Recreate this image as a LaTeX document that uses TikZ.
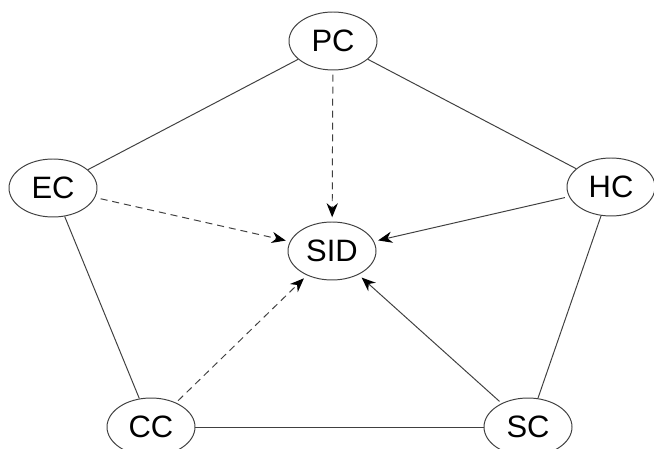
\documentclass[tikz,border=0pt]{standalone}
\usepackage{fontspec}
\setmainfont{Liberation Sans}
\usetikzlibrary{arrows.meta,shapes.geometric}

\begin{document}
\begin{tikzpicture}
		\useasboundingbox (0,0) rectangle (16.35,11.2);
		\begin{scope}[every node/.style={ellipse,draw=black!75,line width=0.7pt,
			minimum width=2.2cm,minimum height=1.45cm,inner sep=0pt,
			font=\fontsize{22}{26}\selectfont}]
			\node (PC) at (8.325,10.175) {PC};
			\node (EC) at (1.325,6.5) {EC};
			\node (HC) at (15.275,6.525) {HC};
			\node (SID) at (8.3,4.925) {SID};
			\node (CC) at (3.775,0.525) {CC};
			\node (SC) at (13.2,0.525) {SC} ;
		\end{scope}
		\begin{scope}[>={Stealth[black,length=10pt,width=8pt]},
			every edge/.style={draw=black!75,line width=0.7pt}]
			\path (PC) edge (EC);
			\path (PC) edge (HC);
			\path (EC) edge (CC);
			\path (HC) edge (SC);
			\path (CC) edge (SC);
			\path [->,shorten >=3pt,shorten <=3pt] (PC) edge[dash pattern=on 5pt off 3.5pt] (SID);
			\path [->,shorten >=3pt,shorten <=4pt] (EC) edge[dash pattern=on 5pt off 3.5pt] (SID);
			\path [->,shorten >=3pt,shorten <=2pt] (CC) edge[dash pattern=on 5pt off 3.5pt] (SID);
			\path [->,shorten >=3pt,shorten <=3pt] (HC) edge (SID);
			\path [->,shorten >=3pt,shorten <=2pt] (SC) edge (SID);
		\end{scope}
	\end{tikzpicture}
\end{document}
